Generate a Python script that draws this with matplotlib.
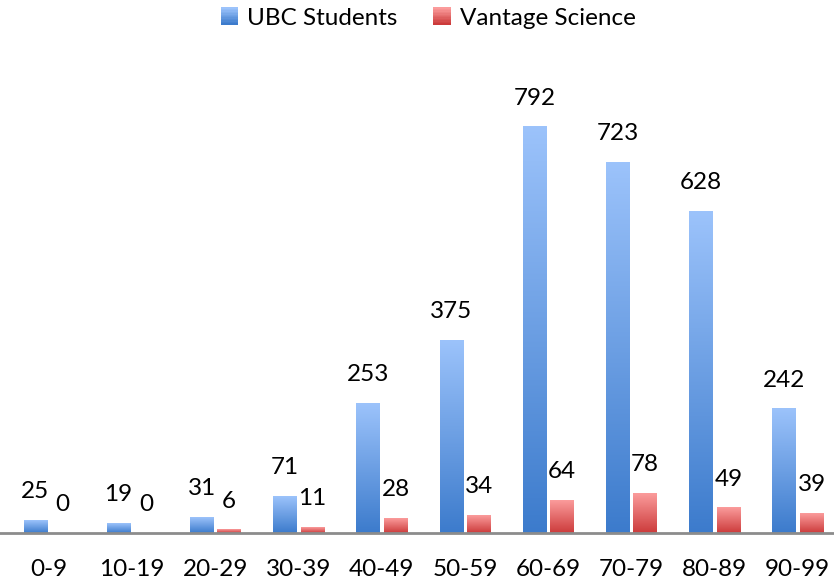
import matplotlib
matplotlib.use("Agg")
import matplotlib.pyplot as plt
import numpy as np
from matplotlib.colors import LinearSegmentedColormap
from matplotlib.patches import Patch, Rectangle
from matplotlib.legend_handler import HandlerBase

plt.rcParams['font.family'] = ['Lato', 'DejaVu Sans']

categories = ["0-9", "10-19", "20-29", "30-39", "40-49", "50-59",
              "60-69", "70-79", "80-89", "90-99"]
ubc = [25, 19, 31, 71, 253, 375, 792, 723, 628, 242]
vantage = [0, 0, 6, 11, 28, 34, 64, 78, 49, 39]

blue_top, blue_bot = "#9cc3fb", "#3c7bcc"
red_top, red_bot = "#fb9c9c", "#cc3b3b"

fig = plt.figure(figsize=(8.34, 5.8), dpi=100)
ax = fig.add_axes([0, 47.3 / 580, 1, (580 - 47.3 - 60) / 580])

x = np.arange(len(categories))
w = 0.283
off = 0.165


def gradient_bars(xs, vals, top, bot):
    bars = ax.bar(xs, vals, width=w, color="none", edgecolor="none")
    cmap = LinearSegmentedColormap.from_list("g", [bot, top])
    grad = np.linspace(0, 1, 256).reshape(-1, 1)
    for b, v in zip(bars, vals):
        if v > 0:
            x0 = b.get_x()
            ax.imshow(grad, cmap=cmap, origin="lower", aspect="auto",
                      extent=[x0, x0 + b.get_width(), 0, v], zorder=2)
        ax.annotate(str(v), (b.get_x() + b.get_width() / 2, v),
                    xytext=(0, 13), textcoords="offset points",
                    ha="center", va="bottom", fontsize=17.5)


gradient_bars(x - off, ubc, blue_top, blue_bot)
gradient_bars(x + off, vantage, red_top, red_bot)

ax.set_xlim(-0.589, 9.435)
ax.set_ylim(0, 922)
for s in ["top", "right", "left"]:
    ax.spines[s].set_visible(False)
ax.spines["bottom"].set_color("#8c8c8c")
ax.spines["bottom"].set_linewidth(2)
ax.spines["bottom"].set_zorder(3)
ax.set_yticks([])
ax.set_xticks(x)
ax.set_xticklabels(categories, fontsize=17.5)
ax.tick_params(axis="x", length=0, pad=19)


class GradientHandler(HandlerBase):
    def __init__(self, top, bot):
        super().__init__()
        self.cmap = LinearSegmentedColormap.from_list("g", [bot, top])

    def create_artists(self, legend, orig_handle, xdescent, ydescent,
                       width, height, fontsize, trans):
        n = 12
        side = height * 1.05
        y0 = -ydescent + (height - side) / 2
        arts = []
        for i in range(n):
            r = Rectangle((-xdescent, y0 + side * i / n), side, side / n + 0.3,
                          facecolor=self.cmap(i / (n - 1)), edgecolor="none",
                          transform=trans)
            arts.append(r)
        return arts


h1, h2 = Patch(), Patch()
fig.legend([h1, h2], ["UBC Students", "Vantage Science"], loc="center",
           bbox_to_anchor=(428 / 834, 1 - 18 / 580), ncol=2, frameon=False,
           fontsize=17.5, handlelength=0.7, handleheight=0.7, handletextpad=0.4,
           columnspacing=1.45,
           handler_map={h1: GradientHandler(blue_top, blue_bot),
                        h2: GradientHandler(red_top, red_bot)})

fig.savefig("out.png", dpi=100)
